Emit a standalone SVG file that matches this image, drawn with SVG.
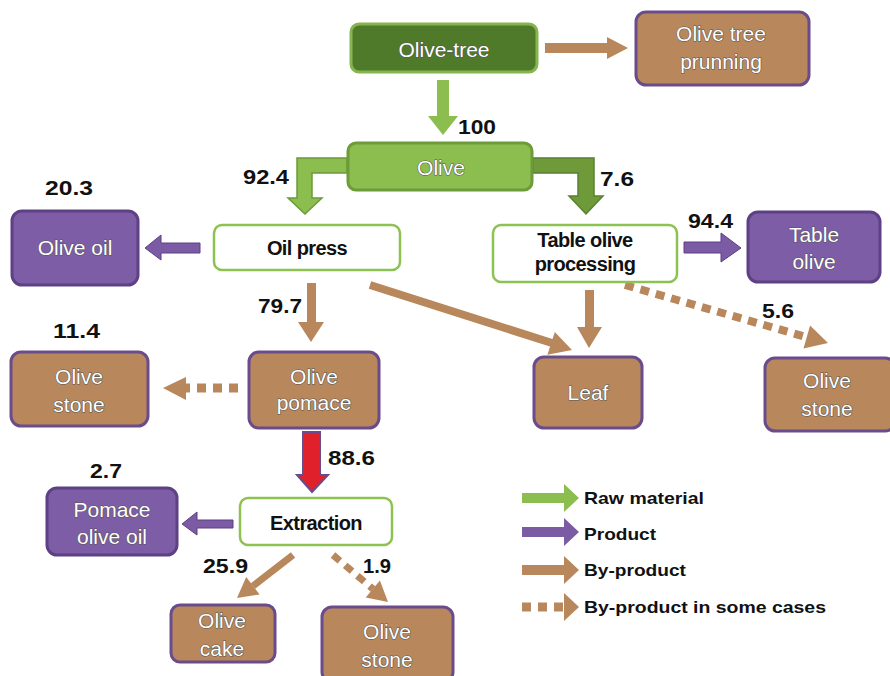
<svg xmlns="http://www.w3.org/2000/svg" width="890" height="676" viewBox="0 0 890 676">
<style>
.brown{fill:#B8875B;stroke:#6A4C8C;stroke-width:3}
.purple{fill:#7E5DA7;stroke:#5D4184;stroke-width:3}
.white{fill:#fff;stroke:#8DC152;stroke-width:2.5}
.nt{font-family:"Liberation Sans",Arial,sans-serif;font-size:21px;fill:#fff;stroke:#555;stroke-width:1.1;paint-order:stroke fill;text-anchor:middle}
.bt{font-family:"Liberation Sans",Arial,sans-serif;font-size:20px;font-weight:bold;fill:#111;text-anchor:middle;letter-spacing:-0.6px}
.num{font-family:"Liberation Sans",Arial,sans-serif;font-size:21px;font-weight:bold;fill:#111}
.lg{font-family:"Liberation Sans",Arial,sans-serif;font-size:17px;font-weight:bold;fill:#111}
.ab{fill:#B8875B}
.ap{fill:#7C5BA5;stroke:#5D4184;stroke-width:1}
.ls{stroke:#B8875B;fill:none}
.ds{stroke:#B8875B;fill:none;stroke-dasharray:9 7}
</style>

<g id="connectors">
  <!-- Olive-tree to pruning -->
  <polygon class="ab" points="545,43 607,43 607,37 628,48 607,59 607,53 545,53"/>
  <!-- Olive-tree to Olive -->
  <polygon fill="#8CBD4F" points="437,80 449,80 449,116 458,116 443,135 428,116 437,116"/>
  <!-- Olive to Oil press (elbow) -->
  <path fill="#8CBD4F" stroke="#6C9B38" stroke-width="1.5" d="M347,158 L297,158 L297,198 L288,198 L305,214 L322,198 L312,198 L312,173 L347,173 Z"/>
  <!-- Olive to Table olive processing (elbow) -->
  <path fill="#6E9A3A" stroke="#5A8030" stroke-width="1.5" d="M533,158 L594,158 L594,196 L603,196 L586,214 L569,196 L578,196 L578,173 L533,173 Z"/>
  <!-- Oil press to Olive oil -->
  <polygon class="ap" points="200,243 161,243 161,235 145,248 161,260 161,253 200,253"/>
  <!-- Table olive processing to Table olive -->
  <polygon class="ap" points="684,242 721,242 721,233 741,248 721,262 721,253 684,253"/>
  <!-- Oil press to Olive pomace -->
  <polygon class="ab" points="307,283 316,283 316,322 324,322 311,342 298,322 307,322"/>
  <!-- Oil press to Leaf -->
  <line class="ls" stroke-width="8" x1="370" y1="285" x2="552" y2="343"/>
  <polygon class="ab" points="572,350 547.4,354.7 554.8,331.9"/>
  <!-- Table olive processing to Leaf -->
  <polygon class="ab" points="585,290 594,290 594,327 602,327 589,348 577,327 585,327"/>
  <!-- Table olive processing to Olive stone (dashed) -->
  <line class="ds" stroke-width="8" x1="625" y1="285" x2="806" y2="337"/>
  <polygon class="ab" points="828,343 803.5,348.5 810.1,325.5"/>
  <!-- Olive pomace to Olive stone (dashed) -->
  <line class="ds" stroke-width="9" x1="238" y1="388" x2="185" y2="388"/>
  <polygon class="ab" points="163,388 186,377 186,400"/>
  <!-- Olive pomace to Extraction (red) -->
  <polygon fill="#E0202A" stroke="#6A4C8C" stroke-width="2" points="303,432 320,432 320,475 328,475 312,492 297,475 303,475"/>
  <!-- Extraction to Pomace olive oil -->
  <polygon class="ap" points="233,520 197,520 197,512 182,524 197,535 197,528 233,528"/>
  <!-- Extraction to Olive cake -->
  <line class="ls" stroke-width="7" x1="293" y1="555" x2="253" y2="586"/>
  <polygon class="ab" points="237,598 246.2,577.1 259.6,594.5"/>
  <!-- Extraction to Olive stone (dashed) -->
  <line class="ds" stroke-width="7" x1="333" y1="555" x2="373" y2="589"/>
  <polygon class="ab" points="388,602 365.7,597.4 379.9,580.6"/>
</g>

<g id="olive-tree">
  <rect x="351" y="24" width="186" height="48" rx="8" fill="#4F7A2A" stroke="#86B54F" stroke-width="3"/>
  <text class="nt" x="444" y="57">Olive-tree</text>
</g>
<g id="olive-tree-prunning">
  <rect x="636" y="12" width="173" height="73" rx="10" class="brown"/>
  <text class="nt" x="721" y="41">Olive tree</text>
  <text class="nt" x="721" y="69">prunning</text>
</g>
<g id="olive">
  <rect x="348" y="143" width="184" height="47" rx="8" fill="#8CBD4F" stroke="#6C9B38" stroke-width="3"/>
  <text class="nt" x="441" y="175">Olive</text>
</g>
<g id="oil-press">
  <rect x="214" y="225" width="186" height="45" rx="8" class="white"/>
  <text class="bt" x="307" y="255">Oil press</text>
</g>
<g id="table-olive-processing">
  <rect x="493" y="225" width="184" height="57" rx="8" class="white"/>
  <text class="bt" x="585" y="247">Table olive</text>
  <text class="bt" x="585" y="271">processing</text>
</g>
<g id="olive-oil">
  <rect x="12" y="211" width="126" height="74" rx="10" class="purple"/>
  <text class="nt" x="75" y="255">Olive oil</text>
</g>
<g id="table-olive">
  <rect x="748" y="212" width="132" height="70" rx="10" class="purple"/>
  <text class="nt" x="814" y="242">Table</text>
  <text class="nt" x="814" y="269">olive</text>
</g>
<g id="olive-stone-1">
  <rect x="11" y="352" width="137" height="74" rx="10" class="brown"/>
  <text class="nt" x="79" y="384">Olive</text>
  <text class="nt" x="79" y="412">stone</text>
</g>
<g id="olive-pomace">
  <rect x="249" y="352" width="130" height="76" rx="10" class="brown"/>
  <text class="nt" x="314" y="384">Olive</text>
  <text class="nt" x="314" y="410">pomace</text>
</g>
<g id="leaf">
  <rect x="534" y="357" width="108" height="71" rx="10" class="brown"/>
  <text class="nt" x="588" y="400">Leaf</text>
</g>
<g id="olive-stone-2">
  <rect x="765" y="358" width="130" height="73" rx="10" class="brown"/>
  <text class="nt" x="827" y="388">Olive</text>
  <text class="nt" x="827" y="416">stone</text>
</g>
<g id="pomace-olive-oil">
  <rect x="47" y="488" width="130" height="67" rx="10" class="purple"/>
  <text class="nt" x="112" y="517">Pomace</text>
  <text class="nt" x="112" y="544">olive oil</text>
</g>
<g id="extraction">
  <rect x="240" y="498" width="152" height="47" rx="8" class="white"/>
  <text class="bt" x="316" y="530">Extraction</text>
</g>
<g id="olive-cake">
  <rect x="171" y="605" width="104" height="57" rx="9" class="brown"/>
  <text class="nt" x="222" y="628">Olive</text>
  <text class="nt" x="222" y="656">cake</text>
</g>
<g id="olive-stone-3">
  <rect x="322" y="607" width="131" height="75" rx="10" class="brown"/>
  <text class="nt" x="387" y="639">Olive</text>
  <text class="nt" x="387" y="667">stone</text>
</g>

<g id="labels">
  <text class="num" x="458" y="134" textLength="38" lengthAdjust="spacingAndGlyphs">100</text>
  <text class="num" x="243" y="184" textLength="46" lengthAdjust="spacingAndGlyphs">92.4</text>
  <text class="num" x="600" y="186" textLength="34" lengthAdjust="spacingAndGlyphs">7.6</text>
  <text class="num" x="45" y="195" textLength="48" lengthAdjust="spacingAndGlyphs">20.3</text>
  <text class="num" x="688" y="228" textLength="45" lengthAdjust="spacingAndGlyphs">94.4</text>
  <text class="num" x="258" y="313" textLength="44" lengthAdjust="spacingAndGlyphs">79.7</text>
  <text class="num" x="762" y="318" textLength="32" lengthAdjust="spacingAndGlyphs">5.6</text>
  <text class="num" x="53" y="338" textLength="47" lengthAdjust="spacingAndGlyphs">11.4</text>
  <text class="num" x="328" y="465" textLength="47" lengthAdjust="spacingAndGlyphs">88.6</text>
  <text class="num" x="90" y="478" textLength="32" lengthAdjust="spacingAndGlyphs">2.7</text>
  <text class="num" x="203" y="573" textLength="45" lengthAdjust="spacingAndGlyphs">25.9</text>
  <text class="num" x="363" y="573" textLength="28" lengthAdjust="spacingAndGlyphs">1.9</text>
</g>

<g id="legend">
  <polygon fill="#8CBD4F" points="522,493 564,493 564,484 579,498 564,512 564,503 522,503"/>
  <text class="lg" x="584" y="504" textLength="120" lengthAdjust="spacingAndGlyphs">Raw material</text>
  <polygon fill="#7C5BA5" points="522,527 564,527 564,518 579,532 564,546 564,537 522,537"/>
  <text class="lg" x="584" y="540" textLength="72" lengthAdjust="spacingAndGlyphs">Product</text>
  <polygon fill="#B8875B" points="522,565 564,565 564,556 579,570 564,584 564,575 522,575"/>
  <text class="lg" x="584" y="576" textLength="102" lengthAdjust="spacingAndGlyphs">By-product</text>
  <line class="ds" stroke-width="9" x1="522" y1="607" x2="566" y2="607"/>
  <polygon fill="#B8875B" points="564,593 579,607 564,621"/>
  <text class="lg" x="584" y="613" textLength="242" lengthAdjust="spacingAndGlyphs">By-product in some cases</text>
</g>
</svg>
